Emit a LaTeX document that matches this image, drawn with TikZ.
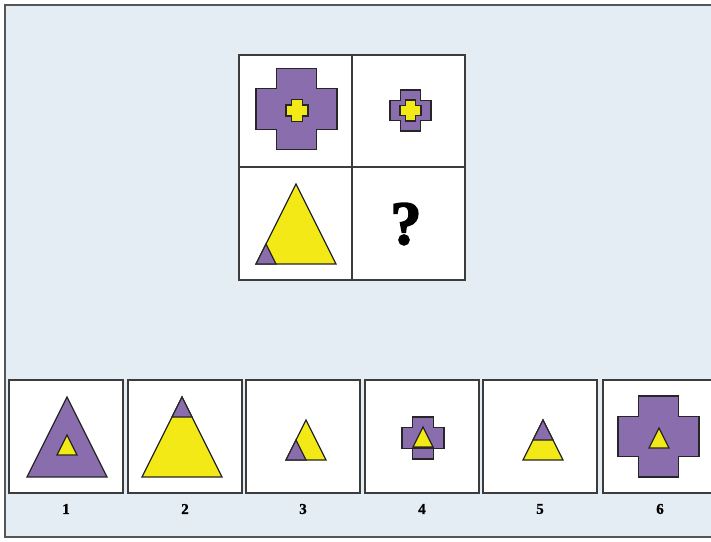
\documentclass[tikz,border=0pt]{standalone}
\usepackage{fontspec}
\setmainfont{Liberation Serif}[BoldFont={Liberation Serif Bold}]
\newfontfamily\qfont{Liberation Serif Bold}[FakeBold=2.5]
\newfontfamily\lfont{Liberation Serif Bold}[FakeBold=1]
\definecolor{bgblue}{HTML}{E4ECF4}
\definecolor{purp}{HTML}{8A6DAC}
\definecolor{yel}{HTML}{F2E917}
\definecolor{outl}{HTML}{262626}
\definecolor{boxline}{HTML}{3C3C3C}
\definecolor{frameline}{HTML}{555555}
\newcommand\mycross[4]{% cx cy size style
  \path[#4] (#1-#3/2,#2-#3/4) -- (#1-#3/4,#2-#3/4) -- (#1-#3/4,#2-#3/2) -- (#1+#3/4,#2-#3/2)
    -- (#1+#3/4,#2-#3/4) -- (#1+#3/2,#2-#3/4) -- (#1+#3/2,#2+#3/4) -- (#1+#3/4,#2+#3/4)
    -- (#1+#3/4,#2+#3/2) -- (#1-#3/4,#2+#3/2) -- (#1-#3/4,#2+#3/4) -- (#1-#3/2,#2+#3/4) -- cycle;}
\begin{document}
\begin{tikzpicture}[x=1pt,y=-1pt,
  pshape/.style={fill=purp,draw=outl,line width=1.2pt,line join=miter},
  yshape/.style={fill=yel,draw=outl,line width=1.2pt,line join=miter},
  cellbox/.style={fill=white,draw=boxline,line width=1.6pt},
  gridline/.style={draw=boxline,line width=1.4pt},
  lbl/.style={font=\lfont\fontsize{15}{15}\selectfont,inner sep=0pt}]
\useasboundingbox (0,0) rectangle (711,541);
\fill[white] (0,0) rectangle (711,541);
\fill[bgblue] (5,5) rectangle (711,537);
\draw[frameline,line width=2pt] (712,5) -- (5,5) -- (5,537) -- (712,537);
% matrix
\fill[white] (239,55) rectangle (465,280);
\draw[gridline] (239,55) rectangle (465,280);
\draw[gridline] (352,55) -- (352,280);
\draw[gridline] (239,167) -- (465,167);
% cell 1
\mycross{296.5}{109}{81}{pshape}
\mycross{297}{110.5}{22}{yshape}
% cell 2
\mycross{410.5}{110.5}{41}{pshape}
\mycross{410.5}{110.5}{21}{yshape}
% cell 3
\path[yshape] (256,264) -- (336,264) -- (296,184) -- cycle;
\path[pshape] (256,264) -- (276,264) -- (266,244) -- cycle;
% cell 4
\node[font=\qfont\fontsize{62}{62}\selectfont,inner sep=0pt] (q) at (406,224) {?};
% options
\foreach \x/\n in {9/1,128/2,246/3,365/4,483/5,603/6}{
  \draw[cellbox] (\x,380) rectangle (\x+114,493);
  \node[lbl] (l\n) at (\x+57,509) {\n};
}
% option 1
\path[pshape] (27,477) -- (107,477) -- (67,397) -- cycle;
\path[yshape] (57,455) -- (77,455) -- (67,435) -- cycle;
% option 2
\path[yshape] (142,477) -- (222,477) -- (182,397) -- cycle;
\path[pshape] (182,397) -- (172,417) -- (192,417) -- cycle;
% option 3
\path[yshape] (286,460) -- (326,460) -- (306,420) -- cycle;
\path[pshape] (286,460) -- (306,460) -- (296,440) -- cycle;
% option 4
\mycross{423}{438}{42}{pshape}
\path[yshape] (413,447) -- (433,447) -- (423,427) -- cycle;
\draw[outl,line width=1.2pt] (412.5,448) -- (433.5,448);
% option 5
\path[yshape] (523,460) -- (563,460) -- (543,420) -- cycle;
\path[pshape] (543,420) -- (533,440) -- (553,440) -- cycle;
% option 6
\mycross{658.5}{436.5}{81}{pshape}
\path[yshape] (649,448) -- (669,448) -- (659,428) -- cycle;
\end{tikzpicture}
\end{document}
